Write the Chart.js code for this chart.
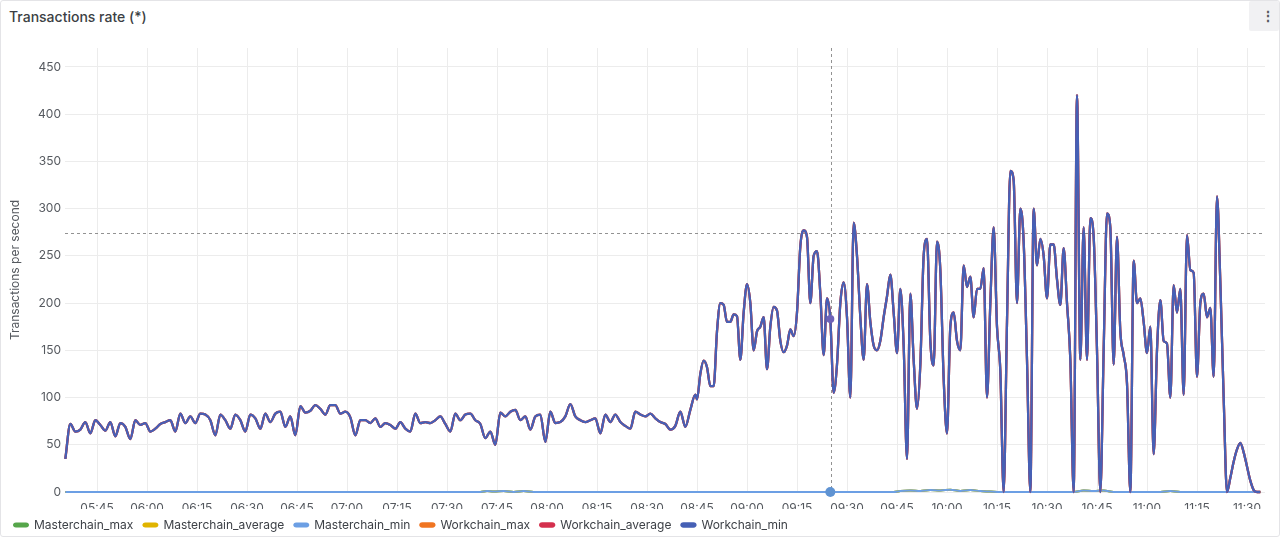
<!DOCTYPE html>
<html>
<head>
<meta charset="utf-8">
<title>Transactions rate</title>
<script src="https://cdn.jsdelivr.net/npm/chart.js@4.4.1/dist/chart.umd.min.js"></script>
<style>
  html, body { margin: 0; padding: 0; background: #fff; }
  body { width: 1280px; height: 537px; overflow: hidden; position: relative; font-family: Inter, "Noto Sans", sans-serif; }
  .panel { position: absolute; left: 0; top: 0; width: 1278px; height: 535px; border: 1px solid #e4e4e7; border-radius: 3px; }
  .title { position: absolute; left: 9px; top: 8px; font-size: 14px; font-weight: 500; color: #3c3f44; }
  .menu { position: absolute; left: 1249px; top: 1px; width: 30px; height: 30px; background: #f1f1f3; border-radius: 2px; color: #55585d; font-size: 14px; line-height: 30px; text-align: center; font-weight: 700; padding-left: 7px; box-sizing: border-box; }
  #chart { position: absolute; left: 0; top: 0; }
</style>
</head>
<body>
<div class="panel"></div>
<div class="title">Transactions rate (*)</div>
<div class="menu">&#8942;</div>
<canvas id="chart" width="1280" height="537"></canvas>
<script>
// series names and colours (legend order)
const seriesNames = ['Masterchain_max', 'Masterchain_average', 'Masterchain_min', 'Workchain_max', 'Workchain_average', 'Workchain_min'];
const seriesColors = ['#56a64b', '#e0b400', '#6c9fe4', '#f07522', '#d4304e', '#4660b5'];

const xTickLabels = ['05:45', '06:00', '06:15', '06:30', '06:45', '07:00', '07:15', '07:30', '07:45', '08:00', '08:15', '08:30',
    '08:45', '09:00', '09:15', '09:30', '09:45', '10:00', '10:15', '10:30', '10:45', '11:00', '11:15', '11:30'];
const yTickValues = [0, 50, 100, 150, 200, 250, 300, 350, 400, 450];
const xMin = '05:35:24';
const xMax = '11:35:24';
const yMax = 470;

// workchain rate, 90 s samples from 05:35:30
const earlyStart = '05:35:30';
const earlyStepSec = 90;
const workchainEarly = [
    35, 72, 64, 66, 74, 62, 76, 71, 65, 74,
    59, 73, 69, 56, 76, 71, 73, 64, 67, 72,
    74, 76, 64, 83, 73, 80, 73, 83, 82, 76,
    60, 82, 76, 67, 82, 76, 64, 82, 78, 67,
    83, 74, 83, 85, 69, 80, 60, 91, 84, 86,
    92, 88, 82, 92, 92, 83, 85, 79, 60, 76,
    76, 73, 78, 69, 73, 71, 67, 74, 67, 64,
    83, 73, 74, 73, 76, 80, 72, 64, 83, 76,
    82, 83, 76, 72, 57, 64, 50, 84, 80, 85,
    87, 76, 80, 66, 80, 82, 53, 85, 73, 74,
    80, 93, 80, 76, 74, 76, 78, 62, 82, 74,
    82, 74, 70, 67, 85, 82, 80, 83, 78, 74,
    72, 66, 70, 85, 69, 87, 103
];

// workchain rate, 1 min samples from 08:45
const lateStart = '08:45:00';
const lateStepSec = 60;
const workchainLate = [
    98, 125, 139, 132, 112, 112, 170, 200, 198, 180,
    180, 188, 186, 140, 190, 220, 200, 150, 170, 175,
    185, 130, 175, 196, 192, 160, 148, 155, 172, 165,
    190, 260, 277, 270, 200, 250, 255, 210, 145, 205,
    183, 105, 135, 200, 222, 185, 100, 285, 250, 185,
    140, 220, 180, 155, 150, 160, 185, 207, 230, 190,
    147, 215, 155, 35, 210, 140, 88, 135, 250, 268,
    160, 134, 265, 235, 120, 62, 175, 190, 160, 150,
    240, 217, 228, 185, 215,
    215, 237, 100, 200, 280, 175, 128, 0, 180, 340,
    330, 200, 300, 265, 140, 0, 300, 240, 268, 250,
    205, 262, 262, 225, 198, 258, 200, 140, 0, 420,
    140, 280, 140, 290, 270, 150, 0, 150, 295, 280,
    135, 270, 170, 145, 115, 0, 245, 200, 205, 180,
    147, 175, 40, 150, 203, 160, 157, 100, 219, 190,
    215, 103, 272, 235, 232, 122, 200, 210, 185, 195,
    122, 313, 222, 100, 0, 15, 32, 45, 52, 42,
    27, 12, 2, 0, 0
];

// masterchain rate (stays near zero)
const masterTimes = ['05:35:30', '07:40:00', '07:42:00', '07:44:00', '07:47:00', '07:50:00', '07:53:00', '07:56:00', '09:25:00', '09:44:00',
    '09:46:00', '09:49:00', '09:52:00', '09:55:00', '09:58:00', '10:01:00', '10:04:00', '10:07:00', '10:10:00', '10:13:00',
    '10:16:00', '10:38:00', '10:41:00', '10:44:00', '10:47:00', '10:50:00', '11:04:00', '11:07:00', '11:10:00', '11:34:00'];
const masterValues = [0, 0, 1, 0.5, 1, 0, 1, 0, 0, 0,
    1, 1.5, 1, 2, 1.5, 2.5, 1, 2, 1, 0.5,
    0, 0, 1.5, 1, 1.5, 0, 0, 1, 0, 0];

// hover crosshair
const cursorTime = '09:25:20';
const cursorValue = 274;

function toMin(t) {
    const p = t.split(':').map(Number);
    return p[0] * 60 + p[1] + (p[2] || 0) / 60;
}

function buildPoints(start, stepSec, values) {
    const t0 = toMin(start);
    return values.map((v, i) => ({ x: t0 + i * stepSec / 60, y: v }));
}

const workchainPoints = buildPoints(earlyStart, earlyStepSec, workchainEarly)
    .concat(buildPoints(lateStart, lateStepSec, workchainLate));
const masterPoints = masterTimes.map((t, i) => ({ x: toMin(t), y: masterValues[i] }));
const cursorX = toMin(cursorTime);

function cursorRadius(r) {
    return ctx => (ctx.raw && Math.abs(ctx.raw.x - cursorX) < 0.5) ? r : 0;
}

const datasets = seriesNames.map((name, i) => {
    const isWork = i >= 3;
    const src = isWork ? workchainPoints : masterPoints;
    let radius = 0;
    let pointColor = seriesColors[i];
    if (name === 'Workchain_min') { radius = cursorRadius(4); pointColor = '#6e62b8'; }
    if (name === 'Masterchain_min') { radius = cursorRadius(5); pointColor = '#5f93d2'; }
    return {
        label: name,
        data: src.map(p => ({ x: p.x, y: p.y })),
        borderColor: seriesColors[i],
        backgroundColor: seriesColors[i],
        borderWidth: isWork ? 2.3 : 2,
        cubicInterpolationMode: 'monotone',
        pointRadius: radius,
        pointBackgroundColor: pointColor,
        pointBorderWidth: 0,
        pointHoverRadius: 0,
        clip: 6,
        order: 5 - i
    };
});

// dashed crosshair lines
const cursorPlugin = {
    id: 'cursorLines',
    beforeDatasetsDraw(chart) {
        const { ctx, chartArea: a, scales: { x, y } } = chart;
        const cx = Math.round(x.getPixelForValue(cursorX)) + 0.5;
        const cy = Math.round(y.getPixelForValue(cursorValue)) + 0.5;
        ctx.save();
        ctx.strokeStyle = 'rgba(110,110,110,0.75)';
        ctx.lineWidth = 1;
        ctx.setLineDash([3, 3]);
        ctx.beginPath();
        ctx.moveTo(cx, a.top);
        ctx.lineTo(cx, a.bottom);
        ctx.moveTo(a.left, cy);
        ctx.lineTo(a.right, cy);
        ctx.stroke();
        ctx.restore();
    }
};

// keep the legend strip small
const legendHeightPlugin = {
    id: 'legendHeight',
    beforeLayout(chart) {
        const lg = chart.legend;
        if (lg && !lg._patched) {
            const fit = lg.fit;
            lg.fit = function() { fit.call(this); this.height = 28; };
            lg._patched = true;
        }
    }
};

Chart.defaults.font.family = 'Inter, "Noto Sans", sans-serif';
Chart.defaults.font.size = 12;

const ctx = document.getElementById('chart').getContext('2d');
const chart = new Chart(ctx, {
    type: 'line',
    data: { datasets: datasets },
    options: {
        responsive: false,
        animation: false,
        events: [],
        layout: { padding: { left: 4, right: 15, top: 48, bottom: 0 } },
        scales: {
            x: {
                type: 'linear',
                min: toMin(xMin),
                max: toMin(xMax),
                afterBuildTicks: s => { s.ticks = xTickLabels.map(l => ({ value: toMin(l) })); },
                afterFit: s => { s.height = 17; },
                ticks: {
                    autoSkip: false,
                    maxRotation: 0,
                    padding: 9,
                    color: '#55595f',
                    callback: (v, i) => xTickLabels[i]
                },
                grid: { color: '#ececec', drawTicks: false },
                border: { display: false }
            },
            y: {
                min: 0,
                max: yMax,
                afterBuildTicks: s => { s.ticks = yTickValues.map(v => ({ value: v })); },
                afterFit: s => { s.width = 61; },
                ticks: { padding: 4, color: '#55595f' },
                grid: { color: '#ececec', drawTicks: false },
                border: { display: false },
                title: {
                    display: true,
                    text: 'Transactions per second',
                    color: '#55595f',
                    font: { size: 12 },
                    padding: { top: 4, bottom: 0 }
                }
            }
        },
        plugins: {
            tooltip: { enabled: false },
            legend: {
                position: 'bottom',
                align: 'start',
                labels: {
                    boxWidth: 14,
                    boxHeight: 3,
                    useBorderRadius: true,
                    borderRadius: 2,
                    padding: 10,
                    color: '#3d4147',
                    font: { size: 12 },
                    sort: (a, b) => a.datasetIndex - b.datasetIndex
                }
            }
        }
    },
    plugins: [cursorPlugin, legendHeightPlugin]
});
</script>
</body>
</html>
